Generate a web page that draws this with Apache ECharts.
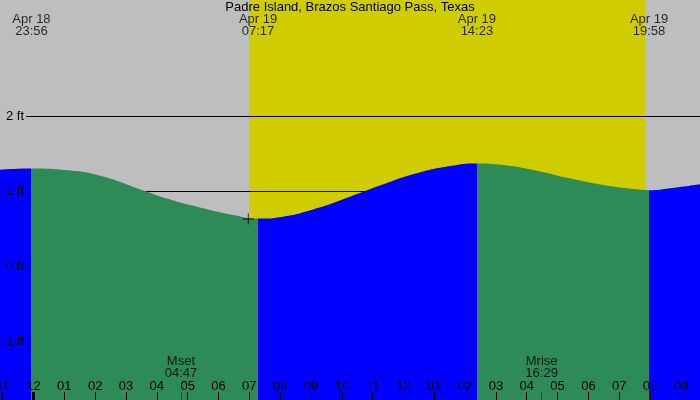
<!DOCTYPE html>
<html>
<head>
<meta charset="utf-8">
<script src="https://cdn.jsdelivr.net/npm/echarts@6/dist/echarts.min.js"></script>
<style>html,body{margin:0;padding:0;background:#bebebe}#c{width:700px;height:400px}</style>
</head>
<body>
<div id="c"></div>
<script>
// ---- data (hours relative to Apr 19 00:00, heights in ft) ----
const titleText = 'Padre Island, Brazos Santiago Pass, Texas';
const tideHours = [-1.087, -0.067, 1.0, 2.157, 3.617, 4.32, 5.40, 6.48, 7.283, 8.10, 9.186, 10.27, 11.35, 12.43, 13.51, 14.383, 15.24, 16.32, 17.40, 18.48, 19.57, 19.967, 20.65, 21.62];
const tideFeet  = [1.284, 1.300, 1.280, 1.205, 1.000, 0.900, 0.780, 0.680, 0.633, 0.658, 0.769, 0.924, 1.089, 1.236, 1.333, 1.368, 1.347, 1.271, 1.169, 1.080, 1.022, 1.010, 1.036, 1.089];
const extremeHours = [-0.067, 7.283, 14.383, 19.967];
const extremeDates = ['Apr 18', 'Apr 19', 'Apr 19', 'Apr 19'];
const extremeClock = ['23:56', '07:17', '14:23', '19:58'];
const sunHours = [6.99, 19.836];
const moonHours = [4.783, 16.483];
const moonNames = ['Mset', 'Mrise'];
const moonClock = ['04:47', '16:29'];
const hourTicks = [-1,0,1,2,3,4,5,6,7,8,9,10,11,12,13,14,15,16,17,18,19,20,21];
const levelFeet = [2, 1, 0, -1];
const nowMark = [6.967, 0.627];

const X_MIN = -1.087, X_MAX = 21.62, Y_MIN = -1.787, Y_MAX = 3.547;
const FONT = 'Liberation Sans';
const BLUE = '#0000ff', GREEN = '#2e8b57', YELLOW = '#cfcc00', GRAY = '#bebebe';

function hourLabel(h) {
  let hh = ((h % 12) + 12) % 12;
  if (hh === 0) hh = 12;
  return (hh < 10 ? '0' : '') + hh;
}

const pieces = [];
for (let i = 0; i <= extremeHours.length; i++) {
  const p = { color: i % 2 === 0 ? BLUE : GREEN };
  if (i > 0) p.gte = extremeHours[i - 1];
  if (i < extremeHours.length) p.lt = extremeHours[i];
  pieces.push(p);
}

const baseX = { type: 'value', min: X_MIN, max: X_MAX, position: 'bottom',
  axisLine: { show: false, onZero: false }, splitLine: { show: false } };

const chart = echarts.init(document.getElementById('c'), null, { renderer: 'canvas' });
chart.setOption({
  animation: false,
  backgroundColor: GRAY,
  title: { text: titleText, left: 'center', top: 0, padding: 0,
    textStyle: { fontFamily: FONT, fontSize: 13, fontWeight: 'normal', color: '#000', lineHeight: 15 } },
  grid: { left: 0, right: 0, top: 0, bottom: 0, containLabel: false, outerBoundsMode: 'none' },
  xAxis: [
    Object.assign({}, baseX, {
      axisTick: { show: true, inside: true, length: 8, customValues: hourTicks, lineStyle: { color: '#000', width: 1 } },
      axisLabel: { show: true, inside: true, margin: 7, customValues: hourTicks, formatter: hourLabel,
        fontFamily: FONT, fontSize: 13, lineHeight: 13, color: '#000' },
      z: 10
    }),
    Object.assign({}, baseX, {
      axisTick: { show: true, inside: true, length: 8, customValues: [0], lineStyle: { color: '#000', width: 3 } },
      axisLabel: { show: false }, z: 11
    }),
    Object.assign({}, baseX, {
      axisTick: { show: true, inside: true, length: 8, customValues: moonHours, lineStyle: { color: '#dd0000', width: 1 } },
      axisLabel: { show: false }, z: 11
    })
  ],
  yAxis: {
    type: 'value', min: Y_MIN, max: Y_MAX, position: 'left', z: 10,
    axisLine: { show: false, onZero: false }, axisTick: { show: false }, splitLine: { show: false },
    axisLabel: { show: true, margin: -24, customValues: levelFeet, formatter: v => v + ' ft',
      fontFamily: FONT, fontSize: 13, color: '#000' }
  },
  visualMap: { type: 'piecewise', show: false, dimension: 0, seriesIndex: 2, pieces: pieces },
  series: [
    { type: 'line', data: [], z: 1, silent: true,
      markArea: { silent: true, z: 1, itemStyle: { color: YELLOW, opacity: 1 },
        data: [[{ xAxis: sunHours[0] }, { xAxis: sunHours[1] }]] } },
    { type: 'line', data: [], z: 2, silent: true,
      markLine: { silent: true, z: 2, symbol: ['none', 'none'], label: { show: false },
        lineStyle: { color: '#000', width: 1, type: 'solid' },
        data: levelFeet.map(v => [{ coord: [-0.243, v] }, { coord: [X_MAX, v] }]) } },
    { type: 'line', z: 3, smooth: 0.5, showSymbol: false, silent: true,
      data: tideHours.map((h, i) => [h, tideFeet[i]]),
      lineStyle: { width: 0, opacity: 0 },
      areaStyle: { opacity: 1, origin: 'start' } },
    { type: 'scatter', z: 5, symbolSize: 0, silent: true,
      data: extremeHours.map((h, i) => ({ value: [h, Y_MAX], name: extremeDates[i] + '\n' + extremeClock[i] })),
      label: { show: true, position: 'bottom', distance: 13.5, formatter: p => p.name,
        fontFamily: FONT, fontSize: 13, lineHeight: 12, color: '#000', align: 'center' } },
    { type: 'scatter', z: 5, symbolSize: 0, silent: true,
      data: moonHours.map((h, i) => ({ value: [h, Y_MIN], name: moonNames[i] + '\n' + moonClock[i] })),
      label: { show: true, position: 'top', distance: 20.5, formatter: p => p.name,
        fontFamily: FONT, fontSize: 13, lineHeight: 12, color: '#000', align: 'center' } },
    { type: 'scatter', z: 6, silent: true, symbol: 'path://M0 5H10M5 0V10', symbolSize: 11,
      itemStyle: { color: 'none', borderColor: '#000', borderWidth: 1 },
      data: [nowMark] }
  ]
});
</script>
</body>
</html>
